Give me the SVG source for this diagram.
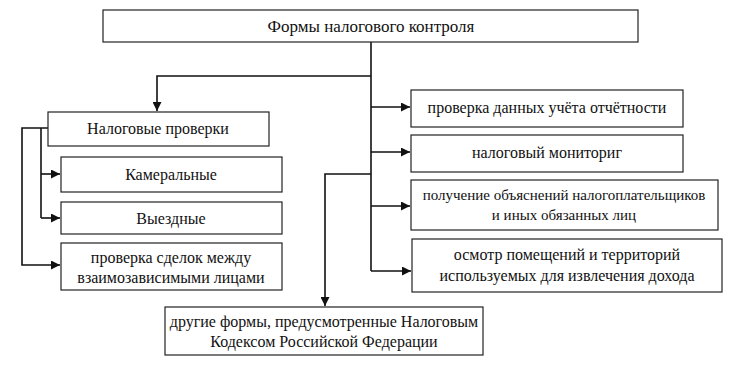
<svg xmlns="http://www.w3.org/2000/svg" width="730" height="366" viewBox="0 0 730 366">
<style>
.box{fill:#fff;stroke:#222;stroke-width:1.2}
.t{font-family:'Liberation Serif','DejaVu Serif',serif;font-size:16px;fill:#111;text-anchor:middle}
.c{fill:none;stroke:#111;stroke-width:1.6}
</style>
<defs>
<marker id="ah" viewBox="0 0 10 10" refX="10" refY="5" markerWidth="9" markerHeight="9" markerUnits="userSpaceOnUse" orient="auto">
<path d="M0,0 L10,5 L0,10 z" fill="#111"/>
</marker>
</defs>
<rect width="730" height="366" fill="#fff"/>
<g id="connectors">
<path class="c" d="M371,42 V271"/>
<path class="c" d="M371,76 H157 V111" marker-end="url(#ah)"/>
<path class="c" d="M371,107 H410" marker-end="url(#ah)"/>
<path class="c" d="M371,152 H410" marker-end="url(#ah)"/>
<path class="c" d="M371,206 H410" marker-end="url(#ah)"/>
<path class="c" d="M371,271 H411" marker-end="url(#ah)"/>
<path class="c" d="M371,174 H325 V306" marker-end="url(#ah)"/>
<path class="c" d="M48,128 H22 V265 H60" marker-end="url(#ah)"/>
<path class="c" d="M41,128 V218"/>
<path class="c" d="M41,174 H60" marker-end="url(#ah)"/>
<path class="c" d="M41,218 H60" marker-end="url(#ah)"/>
</g>
<g id="n-root"><rect class="box" x="103" y="10" width="535" height="32"/><text class="t" x="371" y="32" style="font-size:17px">Формы налогового контроля</text></g>
<g id="n-checks"><rect class="box" x="48" y="112" width="221" height="34"/><text class="t" x="158" y="134">Налоговые проверки</text></g>
<g id="n-kameral"><rect class="box" x="61" y="157" width="221" height="35"/><text class="t" x="171" y="180">Камеральные</text></g>
<g id="n-viezd"><rect class="box" x="61" y="202" width="221" height="32"/><text class="t" x="171" y="224">Выездные</text></g>
<g id="n-sdelki"><rect class="box" x="61" y="243" width="221" height="47"/><text class="t" x="171" y="263">проверка сделок между</text><text class="t" x="171" y="283">взаимозависимыми лицами</text></g>
<g id="n-uchet"><rect class="box" x="411" y="90" width="272" height="37"/><text class="t" x="547" y="113">проверка данных учёта отчётности</text></g>
<g id="n-monitor"><rect class="box" x="411" y="135" width="272" height="37"/><text class="t" x="547" y="158">налоговый мониториг</text></g>
<g id="n-obyasn"><rect class="box" x="411" y="180" width="307" height="50"/><text class="t" x="564" y="200" style="font-size:15px">получение объяснений налогоплательщиков</text><text class="t" x="564" y="220" style="font-size:15px">и иных обязанных лиц</text></g>
<g id="n-osmotr"><rect class="box" x="412" y="239" width="310" height="53"/><text class="t" x="567" y="260">осмотр помещений и территорий</text><text class="t" x="567" y="281">используемых для извлечения дохода</text></g>
<g id="n-other"><rect class="box" x="165" y="307" width="318" height="48"/><text class="t" x="324" y="327">другие формы, предусмотренные Налоговым</text><text class="t" x="324" y="347">Кодексом Российской Федерации</text></g>
</svg>
